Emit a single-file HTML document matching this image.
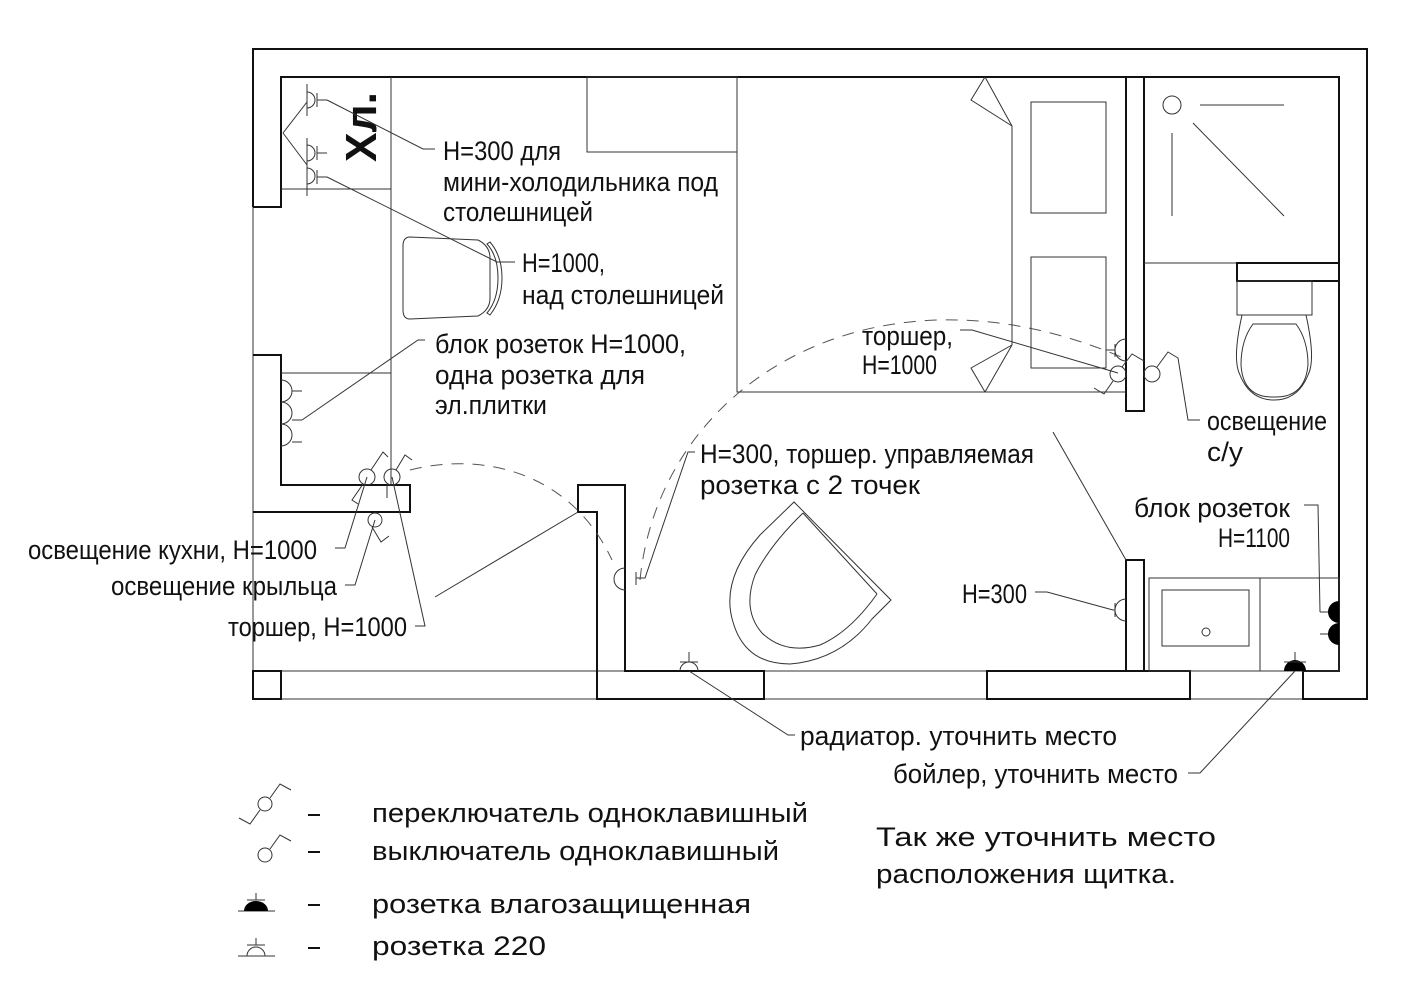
<!DOCTYPE html>
<html><head><meta charset="utf-8"><style>
html,body{margin:0;padding:0;background:#fff;}
svg{display:block;}
text{font-family:"Liberation Sans",sans-serif;font-size:27px;fill:#111;}
.t{stroke:#333;stroke-width:1;fill:none;}
.w{stroke:#111;stroke-width:2;fill:none;}
.d{stroke:#555;stroke-width:1;fill:none;stroke-dasharray:12,9;}
</style></head><body>
<svg width="1425" height="1000" viewBox="0 0 1425 1000" xmlns="http://www.w3.org/2000/svg">
<rect width="1425" height="1000" fill="#fff"/>
<path class="t" d="M253,699 H1303 M281,671 H1303 M253,207 V699"/>
<path class="w" d="M253,207 V49 H1367 V699 H1303 V671 H1339 V77 H281 V207 H253"/>
<path class="w" d="M253,355 H281 V485 H410 V512 H253"/>
<rect class="w" x="253" y="671" width="28" height="28"/>
<path class="w" d="M578,512 V485 H625 V671 H764 V699 H597 V512 Z"/>
<rect class="w" x="987" y="671" width="203" height="28"/>
<rect class="w" x="1126" y="77" width="18" height="334"/>
<rect class="w" x="1126" y="560" width="18" height="111"/>
<path class="t" d="M391,77 V485 M281,189 H391 M281,373 H391"/>
<text x="0" y="0" transform="translate(376,162) rotate(-90)" style="font-size:44px;font-weight:bold" textLength="70" lengthAdjust="spacingAndGlyphs">Хл.</text>
<g class="t">
<path d="M307,84 V116 M307,92 A8,8 0 0 1 307,108 M317,93 V107 M317,100 H327"/>
<path d="M307,138 V170 M307,145 A8,8 0 0 1 307,161 M317,146 V160 M317,153 H327"/>
<path d="M307,168 V196 M307,168 A8,8 0 0 1 307,184 M317,170 V184 M317,177 H327"/>
<path d="M283,133 L307,102 M283,133 L307,165"/>
<path d="M327,100 L423,149 H435 M327,177 L497,262 H515"/>
</g>
<path class="t" d="M410,237 L478,240 Q490,246 490,258 V298 Q490,310 478,316 L410,319 Q403,319 403,310 V246 Q403,237 410,237 Z"/>
<path class="t" d="M487,244 Q498,256 498,278 Q498,300 487,313 L490,315 Q502,300 502,278 Q502,256 490,242 Z"/>
<g class="t">
<path d="M281,380 A11,11 0 0 1 281,402 A11,11 0 0 1 281,424 A11,11 0 0 1 281,446"/>
<path d="M292,391 H302 M292,420 H302 M292,442 H302"/>
<path d="M302,420 L418,340 H425"/>
</g>
<g class="t">
<circle cx="367" cy="477" r="8"/><circle cx="392" cy="477" r="8"/><circle cx="375" cy="520" r="7"/>
<path d="M371,470 L383,452 L388,457 M363,484 L352,500 L358,504"/>
<path d="M396,470 L405,455 L412,460 M387,484 V498 M372,527 L381,542 L389,536"/>
<path d="M367,477 L345,548 H335 M375,520 L355,585 H345 M392,477 L425,626 H415"/>
</g>
<path class="t" d="M435,597 L578,512"/>
<path class="d" d="M410,470 C480,452 570,470 612,560"/>
<path class="t" d="M1053,432 L1126,560"/>
<path class="d" d="M640,580 C660,380 880,250 1128,360"/>
<rect class="t" x="587" y="77" width="150" height="75"/>
<path class="t" d="M737,77 V392 H1126"/>
<path class="t" d="M985,77 L971,100 L1012,126 V345 L971,368 L985,392"/>
<path class="t" d="M985,77 L1012,126 M985,392 L1012,345"/>
<rect class="t" x="1031" y="102" width="75" height="111"/>
<rect class="t" x="1031" y="257" width="75" height="111"/>
<circle class="t" cx="1172" cy="105" r="9"/>
<path class="t" d="M1200,105 H1284 M1172,133 V216 M1193,123 L1284,216 M1144,263 H1237"/>
<rect class="w" x="1237" y="263" width="102" height="18"/>
<rect class="t" x="1237" y="281" width="75" height="34"/>
<path class="t" d="M1242,315 Q1232,360 1240,375 Q1250,400 1274,400 Q1298,400 1308,375 Q1316,360 1306,315"/>
<path class="t" d="M1253,324 H1296 Q1308,340 1308,365 Q1305,398 1274,397 Q1243,398 1241,365 Q1241,340 1253,324 Z"/>
<g class="t">
<path d="M1126,339 A11,11 0 0 0 1126,361 M1115,344 V357 M1115,350 H1106"/>
<circle cx="1118" cy="374" r="8"/><circle cx="1152" cy="374" r="8"/>
<path d="M1122,367 L1132,354 L1144,361 M1113,381 L1104,394 L1094,388"/>
<path d="M1157,367 L1168,352 L1178,358 L1188,420 H1200"/>
<path d="M1118,373 L972,330 H960"/>
<path d="M1126,599 A11,11 0 0 0 1126,621 M1115,603 V617 M1115,610 H1113 L1047,592 H1035"/>
</g>
<rect class="t" x="1149" y="578" width="190" height="93"/>
<path class="t" d="M1260,578 V671"/>
<rect class="t" x="1162" y="590" width="87" height="56"/>
<circle class="t" cx="1206" cy="632" r="4"/>
<path d="M1339,601 A11,11 0 0 0 1339,623 Z M1339,623 A11,11 0 0 0 1339,645 Z" fill="#000"/>
<path class="t" d="M1320,612 H1328 M1320,634 H1328 M1320,612 L1318,505 H1304"/>
<path d="M1284,671 A11,11 0 0 1 1306,671 Z" fill="#000"/>
<path class="t" d="M1295,660 V652 M1284,662 H1306 M1295,671 L1200,773 H1188"/>
<path class="t" d="M680,671 A9,9 0 0 1 698,671 M689,662 V652 M680,662 H698 M689,671 L788,735 H795"/>
<path class="t" d="M625,568 A11,11 0 0 0 625,590 M636,572 V585 M636,578 H645 L688,452 H695"/>
<path class="t" d="M794,502 L891,600 L872,619 Q840,660 790,664 Q745,664 733,622 Q720,580 760,535 Z"/>
<path class="t" d="M803,513 L877,594 M803,513 Q770,545 755,575 Q742,610 762,633 Q785,655 820,645 Q850,632 877,594"/>
<text x="443" y="160" textLength="118" lengthAdjust="spacingAndGlyphs">H=300 для</text>
<text x="443" y="191" textLength="275" lengthAdjust="spacingAndGlyphs">мини-холодильника под</text>
<text x="443" y="221" textLength="150" lengthAdjust="spacingAndGlyphs">столешницей</text>
<text x="522" y="272" textLength="83" lengthAdjust="spacingAndGlyphs">H=1000,</text>
<text x="522" y="304" textLength="202" lengthAdjust="spacingAndGlyphs">над столешницей</text>
<text x="435" y="353" textLength="251" lengthAdjust="spacingAndGlyphs">блок розеток H=1000,</text>
<text x="435" y="384" textLength="210" lengthAdjust="spacingAndGlyphs">одна розетка для</text>
<text x="435" y="414" textLength="112" lengthAdjust="spacingAndGlyphs">эл.плитки</text>
<text x="862" y="345" textLength="91" lengthAdjust="spacingAndGlyphs">торшер,</text>
<text x="862" y="374" textLength="75" lengthAdjust="spacingAndGlyphs">H=1000</text>
<text x="1207" y="430" textLength="120" lengthAdjust="spacingAndGlyphs">освещение</text>
<text x="1207" y="461" textLength="36" lengthAdjust="spacingAndGlyphs">с/у</text>
<text x="700" y="463" textLength="334" lengthAdjust="spacingAndGlyphs">H=300, торшер. управляемая</text>
<text x="700" y="494" textLength="220" lengthAdjust="spacingAndGlyphs">розетка с 2 точек</text>
<text x="1134" y="517" textLength="156" lengthAdjust="spacingAndGlyphs">блок розеток</text>
<text x="1218" y="547" textLength="72" lengthAdjust="spacingAndGlyphs">H=1100</text>
<text x="962" y="603" textLength="65" lengthAdjust="spacingAndGlyphs">H=300</text>
<text x="28" y="559" textLength="289" lengthAdjust="spacingAndGlyphs">освещение кухни, H=1000</text>
<text x="111" y="595" textLength="226" lengthAdjust="spacingAndGlyphs">освещение крыльца</text>
<text x="228" y="636" textLength="179" lengthAdjust="spacingAndGlyphs">торшер, H=1000</text>
<text x="800" y="745" textLength="317" lengthAdjust="spacingAndGlyphs">радиатор. уточнить место</text>
<text x="893" y="783" textLength="285" lengthAdjust="spacingAndGlyphs">бойлер, уточнить место</text>
<g class="t">
<circle cx="265" cy="804" r="7"/><path d="M270,798 L280,784 L291,790 M260,810 L250,824 L239,818"/>
<circle cx="265" cy="855" r="7"/><path d="M270,849 L280,835 L291,841"/>
<path d="M238,911 H275 M256,893 V900 M247,900 H265 M238,956 H275 M256,938 V945 M247,945 H265 M247,956 A9,9 0 0 1 265,956"/>
<path d="M308,815 H320 M308,852 H320 M308,905 H320 M308,948 H320" style="stroke:#111;stroke-width:2"/>
</g>
<path d="M244,911 A12,10 0 0 1 268,911 Z" fill="#000"/>
<g style="font-size:29px">
<text x="372" y="822" textLength="436" lengthAdjust="spacingAndGlyphs">переключатель одноклавишный</text>
<text x="372" y="860" textLength="407" lengthAdjust="spacingAndGlyphs">выключатель одноклавишный</text>
<text x="372" y="913" textLength="379" lengthAdjust="spacingAndGlyphs">розетка влагозащищенная</text>
<text x="372" y="955" textLength="174" lengthAdjust="spacingAndGlyphs">розетка 220</text>
<text x="876" y="846" textLength="340" lengthAdjust="spacingAndGlyphs">Так же уточнить место</text>
<text x="876" y="883" textLength="300" lengthAdjust="spacingAndGlyphs">расположения щитка.</text>
</g>
</svg>
</body></html>
